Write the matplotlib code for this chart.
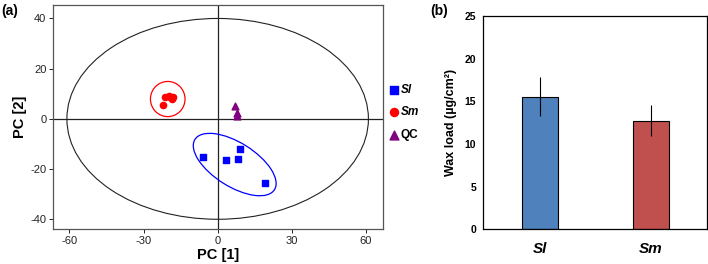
import matplotlib
matplotlib.use("Agg")
import matplotlib.pyplot as plt
from matplotlib.patches import Ellipse

plt.rcParams["font.family"] = ["Liberation Sans", "DejaVu Sans"]
plt.rcParams["axes.unicode_minus"] = False

# ── Data: PCA scores ─────────────────────────────────────────────────────────
sl_pc1 = [-5.9, 3.5, 8.1, 9.0, 19.1]
sl_pc2 = [-15.1, -16.3, -15.9, -11.9, -25.6]
sm_pc1 = [-22.0, -21.4, -19.8, -18.2, -18.6, -19.2]
sm_pc2 = [5.6, 8.8, 9.3, 8.8, 7.8, 8.6]
qc_pc1 = [7.0, 7.8, 7.9]
qc_pc2 = [5.0, 2.5, 1.2]

# ── Data: wax load ───────────────────────────────────────────────────────────
species = ["Sl", "Sm"]
wax_mean = [15.55, 12.75]
wax_err = [2.3, 1.8]
bar_colors = ["#4F81BD", "#C0504D"]

fig = plt.figure(figsize=(7.08, 2.64), dpi=100)

# ── (a) PCA score plot ───────────────────────────────────────────────────────
ax = fig.add_axes([0.0753, 0.1314, 0.466, 0.851])
ax.set_xlim(-66.5, 67)
ax.set_ylim(-44, 45.5)
ax.axhline(0, color="#222222", lw=0.9, zorder=1)
ax.axvline(0, color="#222222", lw=0.9, zorder=1)
ax.add_patch(Ellipse((0, 0), 122, 80, fill=False, ec="#222222", lw=0.8))
ax.add_patch(Ellipse((-20.2, 7.9), 14, 14, fill=False, ec="red", lw=0.9))
ax.add_patch(Ellipse((6.9, -18.2), 37.9, 17.5, angle=-31.7,
                     fill=False, ec="blue", lw=0.9))

h1 = ax.scatter(sl_pc1, sl_pc2, marker="s", s=22, c="blue", zorder=3, label="Sl")
h2 = ax.scatter(sm_pc1, sm_pc2, marker="o", s=20, c="red", zorder=3, label="Sm")
h3 = ax.scatter(qc_pc1, qc_pc2, marker="^", s=24, c="#800080", zorder=3, label="QC")

ax.set_xticks([-60, -30, 0, 30, 60])
ax.set_yticks([-40, -20, 0, 20, 40])
ax.tick_params(labelsize=8, length=3, width=0.7, pad=2, colors="#222222")
for s in ax.spines.values():
    s.set_color("#555555")
    s.set_linewidth(0.9)
ax.set_xlabel("PC [1]", fontsize=10.5, fontweight="bold", labelpad=1)
ax.set_ylabel("PC [2]", fontsize=10.5, fontweight="bold", labelpad=2)

leg = ax.legend(handles=[h1, h2, h3], loc="center left",
                bbox_to_anchor=(0.99, 0.52), frameon=False, fontsize=8.5,
                handletextpad=0.05, labelspacing=0.9, borderaxespad=0.3,
                handlelength=1.0, markerscale=1.3)
for t in leg.get_texts():
    t.set_fontweight("bold")
    if t.get_text() != "QC":
        t.set_fontstyle("italic")

fig.text(0.002, 0.985, "(a)", fontsize=10, fontweight="bold", va="top")

# ── (b) Wax load ─────────────────────────────────────────────────────────────
bx = fig.add_axes([0.6826, 0.1314, 0.3164, 0.808])
bx.bar(range(len(species)), wax_mean, width=0.32, color=bar_colors,
       edgecolor="black", linewidth=0.8, zorder=2)
bx.errorbar(range(len(species)), wax_mean, yerr=wax_err, fmt="none",
            ecolor="black", elinewidth=0.8, capsize=0, zorder=3)
bx.set_xlim(-0.51, 1.507)
bx.set_ylim(0, 25)
bx.set_yticks([0, 5, 10, 15, 20, 25])
bx.set_xticks(range(len(species)))
bx.set_xticklabels(species, fontsize=11, fontweight="bold", fontstyle="italic")
bx.tick_params(axis="x", length=0, pad=9)
bx.tick_params(axis="y", length=0, pad=5, labelsize=7.5)
for t in bx.get_yticklabels():
    t.set_fontweight("bold")
for s in bx.spines.values():
    s.set_linewidth(0.9)
bx.set_ylabel("Wax load (µg/cm²)", fontsize=9, fontweight="bold", labelpad=6)

fig.text(0.607, 0.985, "(b)", fontsize=10, fontweight="bold", va="top")

fig.savefig("out.png", dpi=100)
